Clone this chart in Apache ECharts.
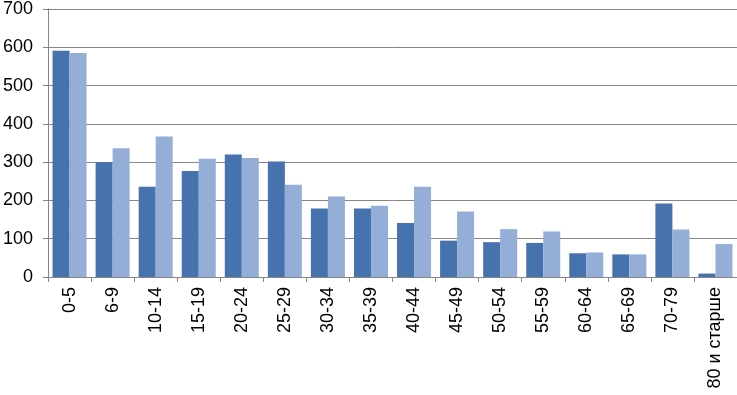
<!DOCTYPE html>
<html><head><meta charset="utf-8">
<script src="https://cdn.jsdelivr.net/npm/echarts@6/dist/echarts.min.js"></script>
<style>html,body{margin:0;padding:0;background:#fff}#c{width:737px;height:395px}</style>
</head><body><div id="c"></div>
<script>
const categories = ['0-5','6-9','10-14','15-19','20-24','25-29','30-34','35-39','40-44','45-49','50-54','55-59','60-64','65-69','70-79','80 и старше'];
const series1 = [591,300,236,277,320,302,179,179,141,95,91,89,62,59,192,9];
const series2 = [585,336,367,309,311,241,210,186,236,171,125,119,64,59,124,86];
const yTicks = [0,100,200,300,400,500,600,700];

const chart = echarts.init(document.getElementById('c'));
chart.setOption({
  animation:false,
  grid:{left:47,right:0,top:8,bottom:118},
  xAxis:{type:'category',data:categories,
    axisLine:{lineStyle:{color:'#868686'}},
    axisTick:{show:true,length:5,lineStyle:{color:'#868686'}},
    axisLabel:{rotate:90,color:'#000',fontFamily:'Liberation Sans, Arial',fontSize:18,margin:10,interval:0}},
  yAxis:{type:'value',min:yTicks[0],max:yTicks[yTicks.length-1],interval:100,
    axisLine:{show:true,lineStyle:{color:'#868686'}},
    axisTick:{show:true,length:5,lineStyle:{color:'#868686'}},
    splitLine:{lineStyle:{color:'#868686',width:1}},
    axisLabel:{color:'#000',fontFamily:'Liberation Sans, Arial',fontSize:18,margin:15}},
  series:[
    {type:'bar',data:series1,barGap:'0%',barCategoryGap:'21%',itemStyle:{color:'#4672AD'}},
    {type:'bar',data:series2,itemStyle:{color:'#95AED7'}}
  ]
});
</script></body></html>
